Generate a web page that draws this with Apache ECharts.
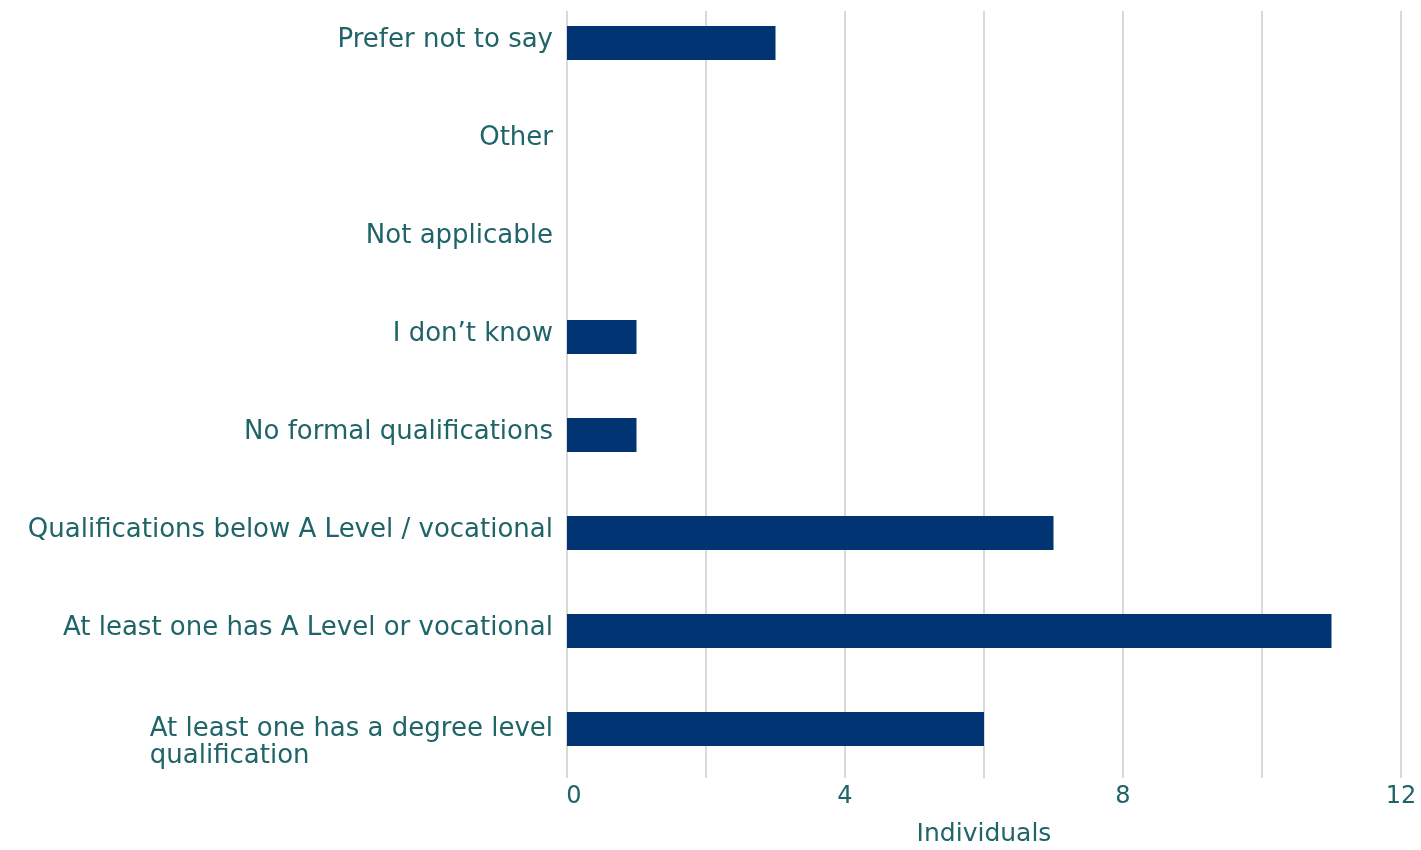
<!DOCTYPE html>
<html>
<head>
<meta charset="utf-8">
<style>
  html, body { margin: 0; padding: 0; background: #ffffff; }
  #chart { width: 1421px; height: 850px; }
</style>
<script src="https://cdn.jsdelivr.net/npm/echarts@6/dist/echarts.min.js"></script>
</head>
<body>
<div id="chart"></div>
<script>
// Data (top to bottom as shown)
const categories = [
  'Prefer not to say',
  'Other',
  'Not applicable',
  'I don\u2019t know',
  'No formal qualifications',
  'Qualifications below A Level / vocational',
  'At least one has A Level or vocational',
  'At least one has a degree level qualification'
];
const values = [3, 0, 0, 1, 1, 7, 11, 6];
const tickLabels = [0, 4, 8, 12];
const axisName = 'Individuals';

const TEXT = '#1f6468';
const FONT = 'DejaVu Sans';

const chart = echarts.init(document.getElementById('chart'), null, { renderer: 'canvas' });

const option = {
  backgroundColor: '#ffffff',
  animation: false,
  grid: [
    { left: 567, width: 834, top: 11, height: 767, outerBoundsMode: 'none' },
    { left: 567, width: 834, top: -6, height: 784, outerBoundsMode: 'none' }
  ],
  xAxis: [
    {
      gridIndex: 0, type: 'value', min: 0, max: 12, interval: 2,
      axisLine: { show: false }, axisTick: { show: false },
      splitLine: { show: true, lineStyle: { color: '#d9d9d9', width: 2 } },
      axisLabel: {
        color: TEXT, fontFamily: FONT, fontSize: 24, margin: 7,
        formatter: function (v) {
          if (tickLabels.indexOf(v) < 0) return '';
          return v === 0 ? '{z|0}' : String(v);
        },
        rich: { z: { color: TEXT, fontFamily: FONT, fontSize: 24, padding: [0, 0, 0, 14] } }
      },
      name: axisName, nameLocation: 'middle', nameGap: 44,
      nameTextStyle: { color: TEXT, fontFamily: FONT, fontSize: 25 }
    },
    {
      gridIndex: 1, type: 'value', min: 0, max: 12, show: false
    }
  ],
  yAxis: [
    { gridIndex: 0, type: 'value', show: false },
    {
      gridIndex: 1, type: 'category', data: categories, inverse: true,
      axisLine: { show: false }, axisTick: { show: false }, splitLine: { show: false },
      axisLabel: {
        color: TEXT, fontFamily: FONT, fontSize: 26, margin: 14, interval: 0,
        lineHeight: 27,
        formatter: function (v) {
          if (v === 'At least one has a degree level qualification') {
            return '{e| }\n{a|At least one has a degree level}\n{a|qualification}';
          }
          return '{n|' + v + '}';
        },
        rich: {
          n: { color: TEXT, fontFamily: FONT, fontSize: 26, lineHeight: 27, padding: [0, 0, 6, 0] },
          e: { color: TEXT, fontFamily: FONT, fontSize: 26, lineHeight: 27, align: 'left' },
          a: { color: TEXT, fontFamily: FONT, fontSize: 26, lineHeight: 27, align: 'left' }
        }
      }
    }
  ],
  series: [
    {
      type: 'bar', xAxisIndex: 1, yAxisIndex: 1, data: values,
      barWidth: 34,
      itemStyle: { color: '#003473' }
    }
  ]
};
chart.setOption(option);
</script>
</body>
</html>
